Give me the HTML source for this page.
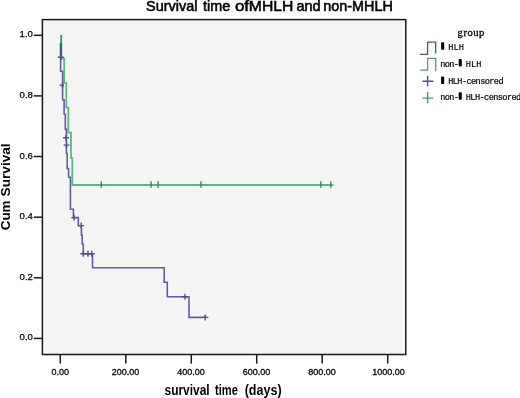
<!DOCTYPE html>
<html><head><meta charset="utf-8">
<style>
html,body{margin:0;padding:0;background:#fff;}
body{width:520px;height:398px;overflow:hidden;position:relative;}
svg{position:absolute;left:0;top:0;will-change:transform;font-family:"Liberation Sans",sans-serif;}
.tk{font-size:9px;fill:#000;stroke:#000;stroke-width:0.3px;}
.ty{font-size:9.6px;fill:#000;stroke:#000;stroke-width:0.25px;}
.lg{font-family:"Liberation Mono",monospace;font-size:8.6px;fill:#000;stroke:#000;stroke-width:0.2px;}
</style></head>
<body>
<svg width="520" height="398" viewBox="0 0 520 398">
  <!-- plot area -->
  <rect x="42.4" y="19.6" width="363.4" height="334.9" fill="#f5f5f5" stroke="#1a1a1a" stroke-width="1.5"/>

  <!-- y ticks -->
  <g stroke="#1a1a1a" stroke-width="1.5">
    <line x1="33.8" y1="35.3" x2="42.4" y2="35.3"/>
    <line x1="33.8" y1="95.9" x2="42.4" y2="95.9"/>
    <line x1="33.8" y1="156.5" x2="42.4" y2="156.5"/>
    <line x1="33.8" y1="217.2" x2="42.4" y2="217.2"/>
    <line x1="33.8" y1="277.8" x2="42.4" y2="277.8"/>
    <line x1="33.8" y1="338.4" x2="42.4" y2="338.4"/>
  </g>
  <g class="ty" text-anchor="end">
    <text x="32.9" y="37.3">1.0</text>
    <text x="32.9" y="97.9">0.8</text>
    <text x="32.9" y="158.5">0.6</text>
    <text x="32.9" y="219.2">0.4</text>
    <text x="32.9" y="279.8">0.2</text>
    <text x="32.9" y="340.4">0.0</text>
  </g>

  <!-- x ticks -->
  <g stroke="#1a1a1a" stroke-width="1.5">
    <line x1="60.3" y1="354.5" x2="60.3" y2="363.6"/>
    <line x1="125.8" y1="354.5" x2="125.8" y2="363.6"/>
    <line x1="191.3" y1="354.5" x2="191.3" y2="363.6"/>
    <line x1="256.7" y1="354.5" x2="256.7" y2="363.6"/>
    <line x1="322.2" y1="354.5" x2="322.2" y2="363.6"/>
    <line x1="387.7" y1="354.5" x2="387.7" y2="363.6"/>
  </g>
  <g class="tk" text-anchor="middle">
    <text x="60.2" y="375.2">0.00</text>
    <text x="125.4" y="375.2">200.00</text>
    <text x="191" y="375.2">400.00</text>
    <text x="256.5" y="375.2">600.00</text>
    <text x="322" y="375.2">800.00</text>
    <text x="388.4" y="375.2">1000.00</text>
  </g>

  <!-- title & axis labels -->
  <g font-size="14.5" fill="#000" stroke="#000" stroke-width="0.55"><text x="146.0" y="10.5" textLength="51.4" lengthAdjust="spacingAndGlyphs">Survival</text><text x="203.1" y="10.5" textLength="27.1" lengthAdjust="spacingAndGlyphs">time</text><text x="234.9" y="10.5" textLength="14.2" lengthAdjust="spacingAndGlyphs">of</text><text x="248.8" y="10.5" textLength="44.6" lengthAdjust="spacingAndGlyphs">MHLH</text><text x="296.4" y="10.5" textLength="24.2" lengthAdjust="spacingAndGlyphs">and</text><text x="323.3" y="10.5" textLength="69.5" lengthAdjust="spacingAndGlyphs">non-MHLH</text></g>
  <g font-size="14" font-weight="bold" fill="#000"><text x="164.5" y="394.6" textLength="45.2" lengthAdjust="spacingAndGlyphs">survival</text><text x="215.0" y="394.6" textLength="22.8" lengthAdjust="spacingAndGlyphs">time</text><text x="244.7" y="394.6" textLength="36.9" lengthAdjust="spacingAndGlyphs">(days)</text></g>
  <g font-size="13" font-weight="bold" fill="#000"><text transform="translate(10.4,230.2) rotate(-90)" textLength="29.7" lengthAdjust="spacingAndGlyphs">Cum</text><text transform="translate(10.4,196.4) rotate(-90)" textLength="53" lengthAdjust="spacingAndGlyphs">Survival</text></g>

  <!-- curves -->
  <g fill="none" stroke-linejoin="miter">
    <path stroke="#5cb87c" stroke-width="1.8" d="M61.2,35 V58.7 H64.2 V82.8 H66.3 V107.7 H68.3 V132.7 H71 V158 H72.3 V185 H333.5"/>
    <g stroke="#4a7d5c" stroke-width="1.4">
      <path d="M101.3,181.3 v6.5 M151.1,181.3 v6.5 M158.1,181.3 v6.5 M201,181.3 v6.5 M320.8,181.3 v6.5 M330.8,181.3 v6.5"/>
    </g>
    <path stroke="#5e60a2" stroke-width="1.6" d="M60.6,43 V71.2 H62.6 V99.8 H64.1 V114.2 H65.3 V129.4 H66.4 V153.5 H67.2 V168.6 H68.6 V177.2 H70.4 V209.3 H73.4 V217.6 H78.3 V225.7 H81.4 V235.3 H82.2 V244 H83.3 V253.8 H92.5 V267.7 H164.2 V282.2 H167.3 V296.7 H189 V317.4 H206"/>
    <path stroke="#3f9470" stroke-width="1.5" d="M61.3,35 V43.5"/>
    <path stroke="#2f6470" stroke-width="2.2" d="M61,43 V56"/>
    <g stroke="#50528a" stroke-width="1.4">
      <path d="M57.8,57.2 h6 M60.8,54.2 v6"/>
      <path d="M59.6,85.2 h4.4 M62.5,82.2 v6"/>
      <path d="M63,137.8 h6 M66,134.8 v6"/>
      <path d="M63.5,145.1 h6 M66.5,142.1 v6"/>
      <path d="M71.3,217.6 h5.4 M74,214.6 v6"/>
      <path d="M78.2,225.6 h6 M81.2,222.6 v6"/>
      <path d="M80.2,253.8 h6 M83.2,250.8 v6"/>
      <path d="M85,253.8 h6 M88,250.8 v6"/>
      <path d="M88.7,253.8 h6 M91.7,250.8 v6"/>
      <path d="M182,296.7 h6 M185,293.7 v6"/>
      <path d="M202.4,317.4 h6 M205.2,314.4 v6"/>
    </g>
  </g>

  <!-- legend -->
  <text x="457.6" y="35.5" style="font-family:'Liberation Serif',serif;font-size:10.6px;stroke:#000;stroke-width:0.3px" fill="#000" textLength="26.8" lengthAdjust="spacing">group</text>
  <path d="M420.1,54.3 H427.6 V42.2 H435.7 V53.4" fill="none" stroke="#4c5088" stroke-width="1.3"/>
  <path d="M420.1,70.2 H427.6 V58.4 H435.7 V71.3" fill="none" stroke="#5a9a68" stroke-width="1.3"/>
  <path d="M422.4,81.2 h10.9 M427.6,75.8 v10.7" fill="none" stroke="#4c5090" stroke-width="1.4"/>
  <path d="M422.4,98.1 h10.9 M427.6,92 v11.3" fill="none" stroke="#52966a" stroke-width="1.4"/>
  <g fill="#000">
    <rect x="441.1" y="42.2" width="3.1" height="7.6" rx="0.9"/>
    <rect x="458.7" y="58.9" width="3.1" height="7.6" rx="0.9"/>
    <rect x="441.1" y="76.5" width="3.1" height="7.6" rx="0.9"/>
    <rect x="458.7" y="92.2" width="3.1" height="7.6" rx="0.9"/>
  </g>
  <g class="lg">
    <text x="448.2" y="49.8" textLength="15.8" lengthAdjust="spacing">HLH</text>
    <text x="440.3" y="66.6" textLength="18.6" lengthAdjust="spacing">non-</text>
    <text x="465.8" y="66.6" textLength="15.6" lengthAdjust="spacing">HLH</text>
    <text x="448.2" y="84.1" textLength="55.4" lengthAdjust="spacing">HLH-censored</text>
    <text x="440.3" y="99.9" textLength="18.6" lengthAdjust="spacing">non-</text>
    <text x="465.8" y="99.9" textLength="55.4" lengthAdjust="spacing">HLH-censored</text>
  </g>
</svg>
</body></html>
